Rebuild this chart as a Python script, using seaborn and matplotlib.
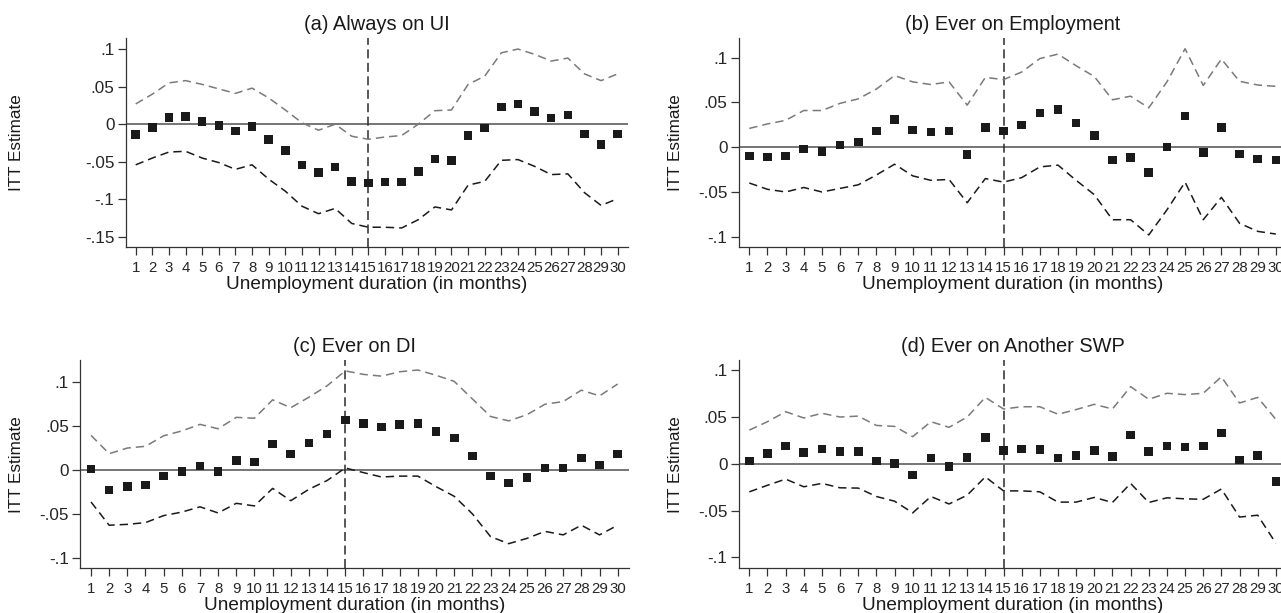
import numpy as np
import pandas as pd
import matplotlib
matplotlib.use("Agg")
import matplotlib.pyplot as plt
import seaborn as sns

months = list(range(1, 31))

a_est = [-0.014, -0.004, 0.009, 0.010, 0.0035, -0.002, -0.009, -0.003, -0.020, -0.035,
         -0.054, -0.064, -0.057, -0.076, -0.078, -0.077, -0.077, -0.063, -0.046, -0.048,
         -0.015, -0.005, 0.023, 0.027, 0.017, 0.008, 0.012, -0.013, -0.027, -0.013]
a_hi = [0.027, 0.040, 0.055, 0.058, 0.053, 0.047, 0.041, 0.048, 0.035, 0.019,
        0.002, -0.008, 0.000, -0.016, -0.020, -0.017, -0.015, 0.000, 0.018, 0.019,
        0.053, 0.064, 0.095, 0.100, 0.093, 0.084, 0.088, 0.067, 0.058, 0.067]
a_lo = [-0.054, -0.045, -0.037, -0.036, -0.045, -0.051, -0.060, -0.054, -0.073, -0.089,
        -0.109, -0.119, -0.112, -0.132, -0.137, -0.137, -0.138, -0.127, -0.110, -0.114,
        -0.081, -0.076, -0.048, -0.047, -0.056, -0.067, -0.066, -0.091, -0.108, -0.099]

b_est = [-0.010, -0.011, -0.010, -0.002, -0.0045, 0.0026, 0.006, 0.018, 0.031, 0.019,
         0.017, 0.018, -0.008, 0.022, 0.018, 0.025, 0.038, 0.042, 0.027, 0.013,
         -0.0145, -0.0115, -0.028, 0.000, 0.035, -0.006, 0.022, -0.0074, -0.013, -0.0145]
b_hi = [0.021, 0.026, 0.030, 0.041, 0.041, 0.049, 0.054, 0.065, 0.080, 0.073,
        0.070, 0.073, 0.047, 0.078, 0.0755, 0.084, 0.099, 0.104, 0.091, 0.079,
        0.053, 0.057, 0.044, 0.073, 0.110, 0.069, 0.0985, 0.0736, 0.0695, 0.068]
b_lo = [-0.040, -0.047, -0.050, -0.045, -0.050, -0.046, -0.042, -0.031, -0.019, -0.032,
        -0.037, -0.036, -0.062, -0.035, -0.039, -0.034, -0.022, -0.020, -0.037, -0.053,
        -0.081, -0.081, -0.098, -0.070, -0.039, -0.081, -0.056, -0.085, -0.094, -0.097]

c_est = [0.001, -0.023, -0.0186, -0.017, -0.0068, -0.0015, 0.0046, -0.0015, 0.011, 0.009,
         0.0297, 0.018, 0.031, 0.041, 0.057, 0.053, 0.049, 0.052, 0.053, 0.044,
         0.0365, 0.016, -0.0068, -0.0148, -0.0084, 0.0023, 0.0023, 0.0137, 0.0057, 0.018]
c_hi = [0.0395, 0.0186, 0.025, 0.027, 0.039, 0.0445, 0.052, 0.047, 0.060, 0.059,
        0.080, 0.071, 0.083, 0.096, 0.113, 0.109, 0.107, 0.112, 0.114, 0.108,
        0.101, 0.081, 0.061, 0.056, 0.063, 0.075, 0.078, 0.091, 0.0845, 0.098]
c_lo = [-0.0365, -0.063, -0.062, -0.060, -0.052, -0.048, -0.042, -0.049, -0.038, -0.041,
        -0.021, -0.035, -0.022, -0.012, 0.0023, -0.003, -0.008, -0.007, -0.007, -0.019,
        -0.030, -0.050, -0.076, -0.084, -0.078, -0.070, -0.074, -0.063, -0.074, -0.063]

d_est = [0.003, 0.0107, 0.019, 0.0118, 0.016, 0.013, 0.013, 0.003, 0.000, -0.012,
         0.006, -0.003, 0.007, 0.028, 0.014, 0.016, 0.015, 0.006, 0.009, 0.014,
         0.008, 0.031, 0.013, 0.019, 0.018, 0.019, 0.033, 0.004, 0.009, -0.019]
d_hi = [0.036, 0.045, 0.0557, 0.049, 0.054, 0.050, 0.051, 0.041, 0.040, 0.029,
        0.045, 0.039, 0.050, 0.071, 0.0586, 0.061, 0.061, 0.053, 0.058, 0.0636,
        0.0586, 0.0825, 0.069, 0.0754, 0.074, 0.0754, 0.093, 0.065, 0.071, 0.0475]
d_lo = [-0.030, -0.023, -0.0164, -0.0246, -0.021, -0.0257, -0.026, -0.035, -0.040, -0.0525,
        -0.035, -0.043, -0.0336, -0.014, -0.029, -0.029, -0.030, -0.041, -0.041, -0.036,
        -0.0414, -0.021, -0.0414, -0.0364, -0.0375, -0.038, -0.027, -0.057, -0.055, -0.085]

titles = ["(a) Always on UI", "(b) Ever on Employment", "(c) Ever on DI", "(d) Ever on Another SWP"]
ytick_vals_a = [0.1, 0.05, 0.0, -0.05, -0.1, -0.15]
ytick_labels_a = [".1", ".05", "0", "-.05", "-.1", "-.15"]
ytick_vals = [0.1, 0.05, 0.0, -0.05, -0.1]
ytick_labels = [".1", ".05", "0", "-.05", "-.1"]
xlabel = "Unemployment duration (in months)"
ylabel = "ITT Estimate"
cutoff = 15

sns.set_style("ticks")
plt.rcParams["font.family"] = ["Liberation Sans", "DejaVu Sans"]
plt.rcParams["lines.scale_dashes"] = False

W, H = 1281, 613
fig = plt.figure(figsize=(W / 100, H / 100), dpi=100)

def px_axes(left, top, right, bottom):
    return fig.add_axes([left / W, 1 - bottom / H, (right - left) / W, (bottom - top) / H])

panels = [
    dict(box=(125.7, 38, 628, 247), xlim=(0.398, 30.62), ylim=(-0.1633, 0.1147),
         est=a_est, hi=a_hi, lo=a_lo, yt=ytick_vals_a, ytl=ytick_labels_a, ylab_x=24),
    dict(box=(738.7, 38, 1287.3, 247.3), xlim=(0.416, 30.63), ylim=(-0.1118, 0.122),
         est=b_est, hi=b_hi, lo=b_lo, yt=ytick_vals, ytl=ytick_labels, ylab_x=683),
    dict(box=(80, 360, 629.3, 568.3), xlim=(0.394, 30.64), ylim=(-0.1121, 0.1254),
         est=c_est, hi=c_hi, lo=c_lo, yt=ytick_vals, ytl=ytick_labels, ylab_x=24),
    dict(box=(738.7, 360, 1287.3, 568.3), xlim=(0.416, 30.63), ylim=(-0.1118, 0.111),
         est=d_est, hi=d_hi, lo=d_lo, yt=ytick_vals, ytl=ytick_labels, ylab_x=683),
]

dash = (0, (6.0, 3.6))
for title, p in zip(titles, panels):
    l, t, r, b = p["box"]
    ax = px_axes(l, t, r, b)
    df = pd.DataFrame({"month": months, "est": p["est"], "hi": p["hi"], "lo": p["lo"]})
    ax.axhline(0, color="#6a6a6a", lw=1.3, zorder=1)
    ax.axvline(cutoff, color="#2a2a2a", lw=1.1, linestyle=(0, (6.5, 3.2)), zorder=1)
    sns.lineplot(data=df, x="month", y="hi", ax=ax, color="#7a7a7a", lw=1.1,
                 linestyle=dash, zorder=2)
    sns.lineplot(data=df, x="month", y="lo", ax=ax, color="#1a1a1a", lw=1.1,
                 linestyle=dash, zorder=2)
    sns.scatterplot(data=df, x="month", y="est", ax=ax, marker="s", s=38,
                    color="#1a1a1a", edgecolor="none", zorder=3)
    ax.set_xlim(*p["xlim"])
    ax.set_ylim(*p["ylim"])
    ax.set_xticks(months)
    ax.set_xticklabels([str(m) for m in months], fontsize=10.8)
    ax.set_yticks(p["yt"])
    ax.set_yticklabels(p["ytl"], fontsize=12.3)
    ax.tick_params(axis="x", length=6, width=0.9, color="#333333", pad=4)
    ax.tick_params(axis="y", length=6, width=0.9, color="#333333", pad=2)
    for s in ["top", "right"]:
        ax.spines[s].set_visible(False)
    for s in ["left", "bottom"]:
        ax.spines[s].set_color("#333333")
        ax.spines[s].set_linewidth(0.9)
    ax.set_title(title, fontsize=14.4, pad=5.5, color="#1a1a1a")
    ax.set_xlabel(xlabel, fontsize=13.7, labelpad=0.5, color="#1a1a1a")
    ax.set_ylabel(ylabel, fontsize=12.3, color="#1a1a1a")
    ax.yaxis.set_label_coords((p["ylab_x"] - l) / (r - l), 0.5)

fig.savefig("out.png", dpi=100)
